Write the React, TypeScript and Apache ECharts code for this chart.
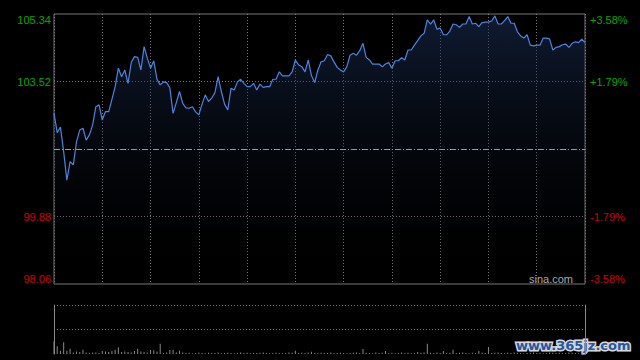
import React, { useEffect, useRef } from 'react';
import * as echarts from 'echarts';

const PREV_CLOSE = 101.7;
const PRICE_MIN = 98.06;
const PRICE_MAX = 105.34;
const PCT_MAX = 3.58;
const PCT_STEP = 1.79;

const prices = [
  102.66, 102.14, 102.29, 101.63, 100.86, 101.36, 101.27, 101.9, 102.21, 102.26,
  101.94, 102.08, 102.35, 102.84, 102.89, 102.48, 102.71, 102.71, 103.04, 103.38,
  103.88, 103.65, 103.83, 103.47, 104.03, 104.19, 104.17, 103.83, 104.46, 104.15,
  103.88, 104.08, 103.58, 103.43, 103.51, 103.49, 103.35, 102.66, 102.95, 103.25,
  102.93, 102.81, 102.8, 102.84, 102.7, 102.62, 102.91, 103.16, 102.98, 103.07,
  103.22, 103.65, 103.25, 102.91, 102.75, 103.34, 103.29, 103.51, 103.58, 103.47,
  103.38, 103.38, 103.47, 103.29, 103.45, 103.36, 103.38, 103.38, 103.58, 103.58,
  103.78, 103.67, 103.67, 103.67, 103.78, 104.1, 103.97, 103.92, 103.78, 104.1,
  103.68, 103.49, 103.83, 104.05, 104.08, 104.25, 104.21, 104.05, 103.9, 103.83,
  103.78, 103.92, 104.23, 104.28, 104.23, 104.35, 104.55, 104.17, 104.1, 103.99,
  103.99, 103.99, 103.92, 103.99, 104.03, 103.88, 104.08, 104.08, 104.16, 104.1,
  104.37, 104.37, 104.5, 104.62, 104.75, 104.82, 105.18, 105.07, 105.18, 104.93,
  104.96, 104.78, 104.78, 104.88, 105.07, 105.05, 104.98, 105.07, 105.07, 105.27,
  105.07, 105.09, 105.0, 105.11, 105.12, 105.12, 105.15, 105.29, 105.07, 105.07,
  105.16, 105.27, 105.09, 105.09, 104.86, 104.75, 104.69, 104.78, 104.5, 104.48,
  104.5, 104.5, 104.69, 104.69, 104.67, 104.37, 104.44, 104.46, 104.51, 104.53,
  104.44, 104.55, 104.59, 104.57, 104.66, 104.57,
];

const volumes = [
  130, 78, 34, 120, 34, 54, 15, 25, 20, 44,
  15, 12, 15, 15, 10, 30, 25, 20, 30, 44,
  68, 20, 25, 20, 15, 30, 54, 25, 20, 15,
  41, 38, 25, 105, 10, 15, 41, 44, 15, 34,
  15,
  10, 12, 8, 10, 15, 10, 8, 12, 10, 10,
  15, 8, 10, 12, 10, 8, 10, 15, 10, 12,
  8, 10, 10, 12, 15, 10, 8, 10, 12, 10,
  8, 10, 15, 12,
  34, 10, 12, 10, 15, 23,
  10, 8, 12, 10, 10, 15, 8, 10, 12, 10, 8, 10, 12, 15, 10,
  51,
  12, 10, 8, 15, 10, 12,
  30,
  10, 12, 8, 10, 15, 10, 12, 8, 10,
  20, 12, 15, 105,
  12, 10, 15, 10,
  30, 10, 12, 44,
  10, 12, 15, 10, 8, 12, 10,
  30, 12, 10, 71,
  10, 12, 15, 10, 8, 12, 10, 15, 12, 10,
  8, 10, 12, 15, 10, 12, 8, 10, 15, 12,
  10, 12, 8, 10, 15, 12, 10, 8, 12, 10,
];

function buildTimes(n: number): string[] {
  const out: string[] = [];
  for (let k = 0; k < n; k++) {
    const m = k <= 75 ? 9 * 60 + 30 + 2 * k : 13 * 60 + 2 * (k - 75);
    const h = Math.floor(m / 60);
    const mm = m % 60;
    out.push(String(h).padStart(2, '0') + ':' + String(mm).padStart(2, '0'));
  }
  return out;
}
const times = buildTimes(prices.length);

export default function App() {
  const ref = useRef<HTMLDivElement>(null);
  useEffect(() => {
    document.body.style.margin = '0';
    document.body.style.background = '#000';
    const chart = echarts.init(ref.current!, undefined, { renderer: 'svg' });
    const green = '#00a800';
    const red = '#d00000';
    const font = '"Liberation Sans", Arial, sans-serif';
    chart.setOption({
      animation: false,
      backgroundColor: '#000',
      grid: [
        { left: 54, right: 55, top: 14, height: 270, show: true, borderColor: '#777', borderWidth: 1, backgroundColor: 'transparent' },
        { left: 54, right: 55, top: 305, height: 49 },
      ],
      xAxis: [
        {
          type: 'category', gridIndex: 0, data: times, boundaryGap: false,
          axisLine: { show: false }, axisTick: { show: false }, axisLabel: { show: false },
          splitLine: { show: true, interval: 14, lineStyle: { color: '#777', type: [1, 2], width: 1 } },
        },
        {
          type: 'category', gridIndex: 1, data: times, boundaryGap: false,
          axisLine: { show: false }, axisTick: { show: false }, axisLabel: { show: false },
          splitLine: { show: false },
        },
      ],
      yAxis: [
        { type: 'value', gridIndex: 0, min: PRICE_MIN, max: PRICE_MAX, show: false, splitLine: { show: false } },
        {
          type: 'value', gridIndex: 0, position: 'left', min: -PCT_MAX, max: PCT_MAX, interval: PCT_STEP,
          axisLine: { show: false }, axisTick: { show: false },
          axisLabel: {
            margin: 3, fontSize: 11, fontFamily: font,
            formatter: (v: number) => (Math.abs(v) < 1e-6 ? '' : (PREV_CLOSE * (1 + v / 100)).toFixed(2)),
            color: (v: any) => (Number(v) > 0 ? green : red),
            verticalAlignMaxLabel: 'top', verticalAlignMinLabel: 'bottom',
          },
          splitLine: { show: true, lineStyle: { color: ['transparent', '#777', 'transparent', '#777', 'transparent'], type: [1, 2], width: 1 } },
        },
        {
          type: 'value', gridIndex: 0, position: 'right', min: -PCT_MAX, max: PCT_MAX, interval: PCT_STEP,
          axisLine: { show: false }, axisTick: { show: false },
          axisLabel: {
            margin: 5, fontSize: 11, fontFamily: font,
            formatter: (v: number) => (Math.abs(v) < 1e-6 ? '' : (v > 0 ? '+' : '') + v.toFixed(2) + '%'),
            color: (v: any) => (Number(v) > 0 ? green : red),
            verticalAlignMaxLabel: 'top', verticalAlignMinLabel: 'bottom',
          },
          splitLine: { show: false },
        },
        {
          type: 'value', gridIndex: 1, min: 0, max: 500, interval: 250,
          axisLine: { show: true, lineStyle: { color: '#888' } }, axisTick: { show: false }, axisLabel: { show: false },
          splitLine: { show: true, lineStyle: { color: ['transparent', '#777', '#777'], type: [1, 2], width: 1 } },
        },
        {
          type: 'value', gridIndex: 1, position: 'right', min: 0, max: 500,
          axisLine: { show: true, lineStyle: { color: '#888' } }, axisTick: { show: false }, axisLabel: { show: false },
          splitLine: { show: false },
        },
      ],
      series: [
        {
          type: 'line', xAxisIndex: 0, yAxisIndex: 0, data: prices, symbol: 'none',
          lineStyle: { color: '#4a84e0', width: 1.2 },
          areaStyle: {
            origin: 'start',
            color: new echarts.graphic.LinearGradient(0, 0, 0, 1, [
              { offset: 0, color: 'rgba(30,52,95,0.75)' },
              { offset: 1, color: 'rgba(0,0,0,0)' },
            ]),
          },
          markLine: {
            silent: true, symbol: 'none', label: { show: false },
            lineStyle: { color: '#999', type: [6, 2, 1, 2], width: 1 },
            data: [{ yAxis: PREV_CLOSE }],
          },
        },
        {
          type: 'bar', xAxisIndex: 1, yAxisIndex: 3, data: volumes, barWidth: 1,
          itemStyle: { color: '#888' },
        },
      ],
      graphic: [
        { type: 'text', right: 67, top: 273, style: { text: 'sina.com', fill: '#aaa', font: '11px "Liberation Sans", Arial, sans-serif' } },
        { type: 'text', right: 8, top: 337, style: { text: 'www.365jz.com', fill: '#2456a6', stroke: '#d8d8d8', lineWidth: 3, font: 'bold 13px "DejaVu Sans", sans-serif' } },
      ],
    });
    return () => chart.dispose();
  }, []);
  return <div ref={ref} style={{ width: 640, height: 360, background: '#000' }} />;
}
